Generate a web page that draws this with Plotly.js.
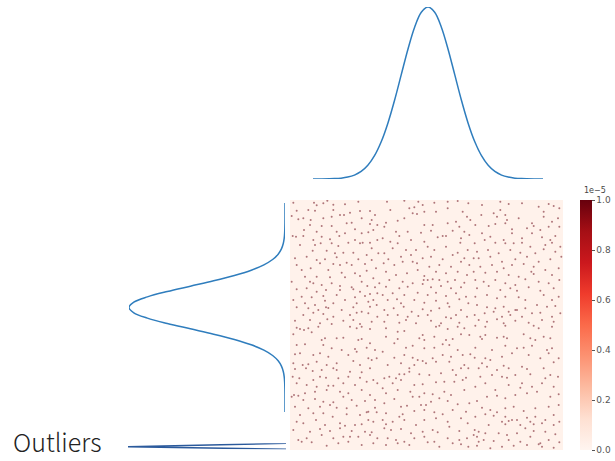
<!DOCTYPE html>
<html>
<head>
<meta charset="utf-8">
<script src="https://cdn.plot.ly/plotly-3.0.1.min.js"></script>
<style>html,body{margin:0;padding:0;background:#fff;}#chart{width:615px;height:461px;}</style>
</head>
<body>
<div id="chart"></div>
<script>
// Top marginal density (x position, density)
const topX = [-4.3,-4,-3.5,-3.25,-3,-2.75,-2.5,-2.25,-2,-1.75,-1.5,-1.25,-1,-0.75,-0.5,-0.25,0,0.25,0.5,0.75,1,1.25,1.5,1.75,2,2.25,2.5,2.75,3,3.25,3.5,4,4.3];
const topY = [0.00004,0.00013,0.00087,0.002,0.0044,0.0091,0.0175,0.0317,0.054,0.0863,0.1295,0.1826,0.242,0.3011,0.352,0.3867,0.399,0.3867,0.352,0.3011,0.242,0.1826,0.1295,0.0863,0.054,0.0317,0.0175,0.0091,0.0044,0.002,0.00087,0.00013,0.00004];
// Left marginal density (y position, density)
const leftY = [-4.9,-4.5,-4,-3.5,-3.25,-3,-2.75,-2.5,-2.25,-2,-1.75,-1.5,-1.25,-1,-0.75,-0.5,-0.25,0,0.25,0.5,0.75,1,1.25,1.5,1.75,2,2.25,2.5,2.75,3,3.25,3.5,4,4.5,4.9];
const leftX = [0.000002,0.000016,0.00013,0.00087,0.002,0.0044,0.0091,0.0175,0.0317,0.054,0.0863,0.1295,0.1826,0.242,0.3011,0.352,0.3867,0.399,0.3867,0.352,0.3011,0.242,0.1826,0.1295,0.0863,0.054,0.0317,0.0175,0.0091,0.0044,0.002,0.00087,0.00013,0.000016,0.000002];
// Outlier spike
const outY = [1, 0.43, 0];
const outX = [0, 1, 0];
// Colorbar
const cbVals = [0, 0.2e-5, 0.4e-5, 0.6e-5, 0.8e-5, 1.0e-5];
const cbText = ['0.0','0.2','0.4','0.6','0.8','1.0'];
const cbExponent = '1e\u22125';
const bgValue = 0.02e-5;
// Heatmap dots, in six tiles (column, row, points within tile)
const dotsA = [[10,8],[72,8],[80,16],[100,10],[112,2],[130,14],[165,13],[205,5],[20,32],[55,30],[75,32],[130,30],[150,45],[162,45],[180,38],[210,33],[240,33],[255,45],[5,48],[25,58],[40,55],[62,60],[100,55],[125,50],[185,68],[215,55],[245,60],[262,75],[60,75],[95,78],[125,78],[170,70],[195,88],[240,72],[250,90],[42,90],[80,95],[140,95],[165,100],[215,100],[235,97],[8,108],[18,110],[40,108],[70,120],[95,110],[120,118],[148,108],[195,120],[210,130],[240,128],[262,120],[30,135],[75,135],[92,130],[125,130],[145,138],[175,128],[218,128],[245,145],[68,152],[110,152],[135,160],[160,158],[190,158],[230,165],[265,160],[15,175],[50,170],[80,180],[105,178],[140,172],[170,188],[205,178],[245,180],[20,195],[90,190],[130,192],[150,195],[185,195],[225,192],[258,205],[35,210],[62,205],[115,210],[155,218],[195,220],[230,212],[45,230],[80,230],[120,232],[165,232],[210,228],[250,235],[5,245],[60,245],[70,250],[95,255],[125,250],[150,258],[185,262],[215,245],[232,258],[255,262],[268,250],[20,268],[50,265],[80,275],[108,270],[150,270],[190,268],[210,275],[240,282],[262,280],[35,290],[65,292],[100,288],[140,285],[195,292],[225,288],[250,300],[10,300],[45,310],[75,315],[105,302],[130,310],[165,300],[200,310],[235,305],[260,315],[20,322],[55,325],[85,330],[108,322],[115,324],[155,330],[190,322],[215,335],[240,320],[40,345],[70,338],[100,342],[130,350],[180,345],[200,338],[235,340],[262,350],[15,362],[60,360],[90,370],[112,358],[125,372],[160,362],[190,360],[210,372],[245,365]];
const dotsB = [[18,5],[70,2],[100,22],[112,5],[125,15],[160,8],[200,5],[230,3],[262,10],[28,30],[85,25],[95,40],[108,42],[130,35],[165,35],[200,25],[245,35],[258,50],[15,68],[10,80],[50,62],[70,55],[130,75],[155,75],[200,70],[225,65],[235,80],[268,60],[45,95],[55,108],[80,95],[120,98],[150,92],[185,108],[215,92],[250,95],[265,105],[5,115],[28,125],[50,130],[90,120],[130,125],[170,112],[195,108],[240,115],[238,128],[35,145],[75,150],[105,150],[140,140],[160,150],[195,140],[230,158],[260,150],[10,160],[22,178],[60,170],[90,165],[125,175],[150,170],[185,178],[215,165],[250,175],[8,190],[40,195],[65,185],[95,185],[108,190],[145,200],[175,195],[210,200],[240,185],[265,195],[15,215],[45,225],[78,220],[110,210],[130,228],[165,215],[195,220],[230,215],[258,225],[25,240],[65,245],[95,250],[128,240],[140,240],[155,238],[175,240],[200,245],[222,240],[250,248],[15,260],[55,265],[80,260],[125,252],[150,262],[180,258],[210,265],[240,262],[5,285],[35,280],[70,285],[110,278],[140,285],[165,278],[195,288],[225,280],[255,290],[20,300],[48,298],[60,310],[100,300],[130,308],[165,302],[200,310],[235,298],[262,310],[10,330],[38,325],[68,320],[92,335],[125,328],[150,332],[175,325],[205,320],[240,330],[20,345],[50,345],[80,350],[112,348],[140,345],[195,352],[225,345],[258,350],[10,365],[55,368],[75,360],[105,370],[150,362],[180,370],[210,355],[235,368]];
const dotsC = [[30,15],[85,5],[85,30],[110,12],[150,10],[200,20],[230,12],[245,18],[262,25],[28,45],[65,40],[75,50],[100,45],[105,60],[140,55],[180,70],[215,35],[215,50],[240,65],[258,55],[10,75],[50,78],[70,72],[100,70],[120,88],[165,85],[185,78],[205,90],[230,80],[262,80],[30,100],[55,110],[95,120],[120,100],[150,115],[180,100],[210,112],[235,120],[250,108],[8,130],[38,120],[70,128],[100,130],[125,130],[150,128],[175,140],[220,135],[240,128],[265,140],[15,155],[48,150],[80,160],[115,150],[145,158],[190,160],[215,148],[250,155],[5,175],[20,175],[55,170],[90,185],[130,178],[165,170],[200,185],[235,178],[268,170],[25,200],[60,195],[95,205],[120,195],[155,192],[185,200],[220,210],[260,205],[5,215],[40,218],[75,215],[110,225],[140,230],[178,215],[185,222],[240,225],[10,240],[35,245],[70,240],[100,250],[130,255],[160,238],[200,245],[230,250],[262,240],[15,265],[50,258],[85,270],[115,265],[135,272],[170,262],[205,272],[245,265],[10,290],[45,285],[75,295],[100,290],[140,292],[160,300],[215,285],[240,300],[260,290],[15,315],[45,322],[70,325],[95,320],[110,335],[130,330],[160,325],[195,315],[225,320],[250,318],[8,345],[38,340],[65,335],[90,350],[115,345],[135,330],[150,350],[180,340],[205,338],[240,350],[265,340],[20,360],[45,365],[75,358],[95,370],[130,362],[170,368],[210,360],[245,365]];
const dotsD = [[20,8],[30,12],[42,15],[55,10],[85,5],[180,5],[200,10],[215,5],[240,12],[10,28],[65,22],[95,45],[105,40],[140,40],[160,38],[205,45],[215,42],[240,55],[20,60],[45,58],[100,60],[125,70],[155,75],[195,72],[230,68],[255,75],[15,88],[30,85],[70,90],[90,85],[115,95],[175,90],[200,80],[235,100],[260,100],[10,115],[38,120],[55,118],[80,110],[110,120],[140,115],[190,108],[210,120],[245,105],[15,132],[48,130],[68,138],[95,135],[130,130],[140,135],[180,140],[215,142],[240,130],[8,155],[28,160],[70,165],[90,155],[108,158],[145,160],[175,155],[210,158],[250,165],[20,175],[50,180],[80,185],[115,182],[130,182],[160,175],[195,180],[230,170],[262,175],[5,215],[12,210],[25,212],[45,205],[75,200],[110,195],[150,200],[175,205],[215,195],[240,210],[40,225],[75,222],[100,230],[130,232],[160,215],[185,225],[225,228],[255,225],[15,245],[55,250],[90,245],[120,240],[140,248],[170,250],[200,242],[235,260],[255,248],[30,270],[70,265],[100,265],[128,275],[170,268],[210,270],[230,262],[260,262],[20,290],[40,295],[78,285],[105,300],[150,295],[165,302],[195,300],[215,298],[235,285],[250,290],[10,315],[60,320],[90,312],[120,318],[150,310],[185,318],[225,320],[245,322],[25,345],[50,340],[95,330],[130,340],[160,335],[180,335],[205,335],[240,330],[262,340],[35,350],[65,352],[110,362],[145,355],[175,350],[215,360],[250,355]];
const dotsE = [[15,10],[50,20],[70,18],[125,30],[165,5],[175,2],[200,12],[230,5],[250,10],[15,35],[40,55],[50,42],[115,40],[130,45],[160,35],[195,45],[215,42],[240,28],[265,30],[75,68],[95,62],[130,70],[160,68],[185,58],[205,60],[230,75],[5,80],[40,98],[70,90],[95,98],[110,105],[125,108],[155,100],[185,90],[210,95],[245,90],[268,88],[20,120],[60,115],[85,130],[100,120],[135,115],[165,110],[205,110],[250,120],[262,130],[10,160],[25,155],[45,160],[55,148],[70,148],[85,140],[115,148],[145,150],[180,145],[215,135],[225,150],[240,130],[255,158],[5,190],[35,175],[60,165],[100,180],[125,178],[165,172],[190,170],[220,170],[245,165],[15,205],[50,195],[88,200],[95,215],[115,215],[130,205],[155,208],[190,200],[210,210],[250,195],[10,235],[40,222],[60,245],[78,242],[120,240],[135,240],[150,230],[175,220],[200,228],[230,238],[265,235],[15,265],[55,275],[65,268],[100,258],[130,255],[160,262],[185,268],[215,255],[255,260],[5,285],[15,298],[35,290],[70,285],[105,300],[130,285],[165,280],[200,290],[240,280],[260,295],[10,310],[30,315],[60,312],[90,325],[125,320],[155,315],[170,322],[205,305],[235,318],[20,340],[45,345],[70,350],[100,340],[130,335],[160,350],[200,340],[235,345],[258,340],[15,360],[50,355],[85,360],[140,352],[175,365],[215,355],[240,358],[262,365]];
const dotsF = [[10,2],[40,5],[100,2],[185,2],[200,10],[240,5],[25,35],[30,42],[40,30],[75,38],[95,35],[105,40],[155,28],[175,40],[190,45],[215,35],[235,40],[10,68],[60,75],[100,62],[135,70],[155,68],[180,62],[225,75],[230,85],[240,70],[8,98],[40,100],[55,105],[90,95],[120,85],[170,90],[205,100],[260,100],[30,115],[20,130],[45,125],[75,135],[95,122],[110,130],[150,125],[165,132],[215,130],[245,112],[25,155],[60,150],[90,155],[105,158],[130,150],[175,148],[220,160],[235,150],[258,155],[10,185],[40,175],[70,195],[110,180],[145,188],[150,175],[180,185],[210,175],[245,185],[15,228],[45,215],[75,212],[100,220],[130,210],[165,205],[195,200],[235,215],[260,208],[30,248],[55,255],[75,262],[100,250],[125,245],[155,258],[190,250],[230,245],[260,240],[10,275],[40,268],[65,272],[100,275],[120,285],[135,285],[165,278],[190,275],[220,285],[245,270],[8,315],[20,320],[5,330],[50,300],[90,290],[100,298],[110,288],[145,300],[175,290],[185,298],[210,295],[245,300],[262,290],[15,335],[40,325],[80,325],[105,330],[135,325],[160,310],[185,318],[220,320],[250,328],[20,350],[35,345],[65,348],[110,345],[145,350],[175,335],[205,355],[230,345],[262,352],[15,362],[55,370],[90,365],[125,362],[165,360],[200,358],[210,365],[245,368]];

const tiles = [[0,0,dotsA],[1,0,dotsB],[2,0,dotsC],[0,1,dotsD],[1,1,dotsE],[2,1,dotsF]];
const TW = 273, TH = 375, W = 3*TW, H = 2*TH;
const dotX = [], dotY = [];
tiles.forEach(([c,r,pts]) => pts.forEach(([x,y]) => { dotX.push(c*TW + x); dotY.push(r*TH + y); }));

// background grid for heatmap
const NG = 10;
const bgZ = [];
for (let i = 0; i < NG; i++) { const row = []; for (let j = 0; j < NG; j++) row.push(bgValue); bgZ.push(row); }

const reds = [[0,'#fff5f0'],[0.125,'#fee0d2'],[0.25,'#fcbba1'],[0.375,'#fc9272'],[0.5,'#fb6a4a'],[0.625,'#ef3b2c'],[0.75,'#cb181d'],[0.875,'#a50f15'],[1,'#67000d']];
const blue = '#2f7dbd';
const PW = 615, PH = 461;
const px = v => v / PW, py = v => 1 - v / PH;

const traces = [
  {type:'heatmap', z:bgZ, x0:W/NG/2, dx:W/NG, y0:H/NG/2, dy:H/NG, xaxis:'x', yaxis:'y',
   colorscale:reds, zmin:0, zmax:1e-5, hoverinfo:'skip',
   colorbar:{x:px(580), xanchor:'left', y:py(325), yanchor:'middle', len:250, lenmode:'pixels',
     thickness:12, thicknessmode:'pixels', outlinewidth:0, ticks:'outside', ticklen:3, tickcolor:'#555',
     tickvals:cbVals, ticktext:cbText, tickfont:{size:9, color:'#555', family:'DejaVu Sans'},
     xpad:0, ypad:0}},
  {type:'scatter', mode:'markers', x:dotX, y:dotY, xaxis:'x', yaxis:'y',
   marker:{size:2, color:'rgba(110,15,30,0.55)', line:{width:0}}, hoverinfo:'skip'},
  {type:'scatter', mode:'lines', x:topX, y:topY, xaxis:'x2', yaxis:'y2',
   line:{color:blue, width:1.5, shape:'spline'}},
  {type:'scatter', mode:'lines', x:leftX, y:leftY, xaxis:'x3', yaxis:'y3',
   line:{color:blue, width:1.5, shape:'spline'}},
  {type:'scatter', mode:'lines', x:outX, y:outY, xaxis:'x4', yaxis:'y4',
   line:{color:'#2b5a9c', width:1.5}}
];

const hid = {visible:false, fixedrange:true};
const layout = {
  width:PW, height:PH, margin:{l:0, r:0, t:0, b:0}, showlegend:false,
  paper_bgcolor:'#fff', plot_bgcolor:'rgba(0,0,0,0)',
  xaxis:Object.assign({}, hid, {domain:[px(290), px(563)], range:[0, W]}),
  yaxis:Object.assign({}, hid, {domain:[py(450), py(200)], range:[H, 0]}),
  xaxis2:Object.assign({}, hid, {domain:[px(313), px(543)], range:[-4.3, 4.3], anchor:'y2'}),
  yaxis2:Object.assign({}, hid, {domain:[py(179), py(7)], range:[0, 0.399], anchor:'x2'}),
  xaxis3:Object.assign({}, hid, {domain:[px(129), px(285)], range:[0.399, 0], anchor:'y3'}),
  yaxis3:Object.assign({}, hid, {domain:[py(412), py(203)], range:[-4.9, 4.9], anchor:'x3'}),
  xaxis4:Object.assign({}, hid, {domain:[px(128), px(286)], range:[1, 0], anchor:'y4'}),
  yaxis4:Object.assign({}, hid, {domain:[py(449.3), py(443.3)], range:[0, 1], anchor:'x4'}),
  annotations:[
    {text:'Outliers', xref:'paper', yref:'paper', x:px(11), y:py(441), xanchor:'left', yanchor:'middle',
     showarrow:false, font:{family:'Noto Sans CJK JP', size:25, weight:300, color:'#222'}},
    {text:cbExponent, xref:'paper', yref:'paper', x:px(582), y:py(197), xanchor:'left', yanchor:'bottom',
     showarrow:false, font:{family:'DejaVu Sans', size:8, color:'#444'}}
  ]
};
Plotly.newPlot('chart', traces, layout, {staticPlot:true, displayModeBar:false});
</script>
</body>
</html>
